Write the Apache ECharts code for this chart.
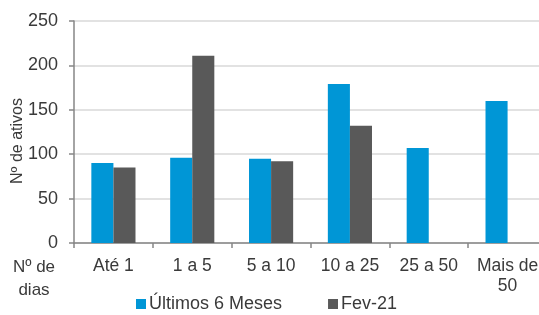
<!DOCTYPE html>
<html>
<head>
<meta charset="utf-8">
<script src="https://cdn.jsdelivr.net/npm/echarts@6/dist/echarts.min.js"></script>
<style>
  html, body { margin: 0; padding: 0; background: #fff; }
  #main { width: 539px; height: 315px; }
</style>
</head>
<body>
<div id="main"></div>
<script>
var categories = ['Até 1', '1 a 5', '5 a 10', '10 a 25', '25 a 50', 'Mais de\n50'];
var ultimos6Meses = [90, 96, 95, 179, 107, 160];
var fev21 = [85, 211, 92, 132, null, null];
var yTicks = [0, 50, 100, 150, 200, 250];

var chartDom = document.getElementById('main');
var myChart = echarts.init(chartDom);
var textColor = '#3a3a3a';
var option = {
    animation: false,
    textStyle: {
        fontFamily: 'Liberation Sans'
    },
    grid: {
        left: 74,
        top: 21,
        width: 473,
        bottom: 72,
        outerBoundsMode: 'none',
        containLabel: false
    },
    legend: {
        left: 131,
        bottom: -3,
        itemWidth: 10,
        itemHeight: 10,
        itemGap: 46,
        icon: 'rect',
        textStyle: {
            fontSize: 18,
            color: textColor,
            padding: [0, 0, 0, -2]
        },
        data: ['Últimos 6 Meses', 'Fev-21']
    },
    graphic: [
        {
            type: 'text',
            x: 34,
            y: 256,
            style: {
                text: 'Nº de\ndias',
                fill: textColor,
                font: '17px "Liberation Sans"',
                align: 'center',
                lineHeight: 23
            }
        },
        {
            type: 'text',
            x: 18,
            y: 141,
            rotation: Math.PI / 2,
            style: {
                text: 'Nº de ativos',
                fill: textColor,
                font: '16px "Liberation Sans"',
                align: 'center',
                verticalAlign: 'middle'
            }
        }
    ],
    xAxis: {
        type: 'category',
        data: categories,
        axisLine: { lineStyle: { color: '#868686', width: 1.5 } },
        axisTick: { show: true, length: 5, alignWithLabel: false, lineStyle: { color: '#868686', width: 1.5 } },
        axisLabel: {
            color: textColor,
            fontSize: 17.5,
            margin: 13,
            lineHeight: 20,
            interval: 0
        }
    },
    yAxis: {
        type: 'value',
        min: yTicks[0],
        max: yTicks[yTicks.length - 1],
        interval: 50,
        axisLine: { show: true, lineStyle: { color: '#868686', width: 1.5 } },
        axisTick: { show: true, length: 5, lineStyle: { color: '#868686', width: 1.5 } },
        axisLabel: { color: textColor, fontSize: 18, margin: 16 },
        splitLine: { lineStyle: { color: '#d9d9d9', width: 1.5 } }
    },
    series: [
        {
            name: 'Últimos 6 Meses',
            type: 'bar',
            data: ultimos6Meses,
            barGap: '0%',
            barCategoryGap: '44%',
            itemStyle: { color: '#0096d6' }
        },
        {
            name: 'Fev-21',
            type: 'bar',
            data: fev21,
            itemStyle: { color: '#595959' }
        }
    ]
};
myChart.setOption(option);
</script>
</body>
</html>
